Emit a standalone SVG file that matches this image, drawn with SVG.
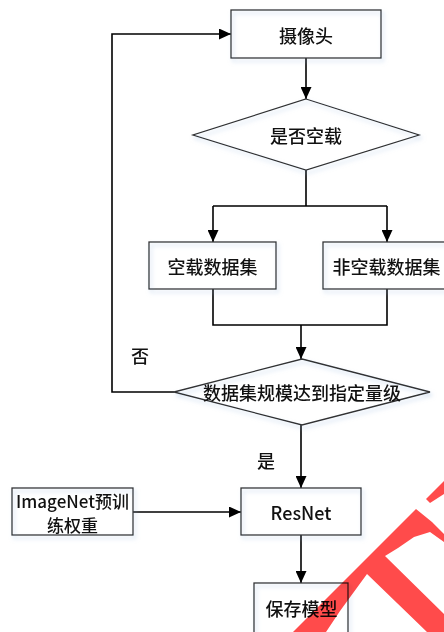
<svg xmlns="http://www.w3.org/2000/svg" width="444" height="632" viewBox="0 0 444 632">
<style>
.node{fill:none;stroke:#333;stroke-width:1.3}
.t{font-family:"Noto Sans CJK SC","Microsoft YaHei",sans-serif;font-size:18px;font-weight:500;fill:#111;text-anchor:middle;dominant-baseline:central}
.c{fill:none;stroke:#000;stroke-width:1.6}
.wm{fill:#ff4b4b;mix-blend-mode:multiply}
</style>
<defs>
<filter id="sh" x="-20%" y="-20%" width="150%" height="160%">
<feDropShadow dx="2" dy="3" stdDeviation="2" flood-color="#9dbbe0" flood-opacity="0.55"/>
</filter>
<marker id="ah" markerUnits="userSpaceOnUse" markerWidth="12" markerHeight="11" refX="12" refY="5.5" orient="auto">
<path d="M0,0 L12,5.5 L0,11 z" fill="#000"/>
</marker>
</defs>
<rect width="444" height="632" fill="#fff"/>
<g id="connectors">
<path class="c" d="M306,58 V99" marker-end="url(#ah)"/>
<path class="c" d="M306,170 V206 M213,206 H387"/>
<path class="c" d="M213,206 V242" marker-end="url(#ah)"/>
<path class="c" d="M387,206 V242" marker-end="url(#ah)"/>
<path class="c" d="M213,289 V325 H387 V289"/>
<path class="c" d="M301,325 V359" marker-end="url(#ah)"/>
<path class="c" d="M174,392 H112 V34 H231" marker-end="url(#ah)"/>
<path class="c" d="M301,425 V488" marker-end="url(#ah)"/>
<path class="c" d="M133,512 H241" marker-end="url(#ah)"/>
<path class="c" d="M301,535 V583" marker-end="url(#ah)"/>
<text class="t" x="140" y="355">否</text>
<text class="t" x="266" y="460">是</text>
</g>
<g id="camera">
<rect class="node" x="231" y="10" width="150" height="48" filter="url(#sh)"/>
<text class="t" x="306" y="35">摄像头</text>
</g>
<g id="isEmpty">
<polygon class="node" points="306,99 419,135 306,170 193,135" filter="url(#sh)"/>
<text class="t" x="306" y="135">是否空载</text>
</g>
<g id="emptySet">
<rect class="node" x="149" y="242" width="127" height="47" filter="url(#sh)"/>
<text class="t" x="212.5" y="266">空载数据集</text>
</g>
<g id="nonEmptySet">
<rect class="node" x="323" y="242" width="127" height="47" filter="url(#sh)"/>
<text class="t" x="386.5" y="266">非空载数据集</text>
</g>
<g id="scaleCheck">
<polygon class="node" points="302,359 430,392 302,425 174,392" filter="url(#sh)"/>
<text class="t" x="302" y="392">数据集规模达到指定量级</text>
</g>
<g id="imagenet">
<rect class="node" x="12" y="488" width="121" height="47" filter="url(#sh)"/>
<text class="t" x="72.5" y="500" style="font-size:17px">ImageNet预训</text>
<text class="t" x="72.5" y="524" style="font-size:17px">练权重</text>
</g>
<g id="resnet">
<rect class="node" x="241" y="488" width="120" height="47" filter="url(#sh)"/>
<text class="t" x="301" y="512">ResNet</text>
</g>
<g id="save">
<rect class="node" x="254" y="583" width="94" height="52" filter="url(#sh)"/>
<text class="t" x="301.5" y="608">保存模型</text>
</g>
<g id="watermark">
<polygon class="wm" points="293,632 416,509 432,522 444,534 444,542 430,532 414,537 398,548 385,556 444,614 444,632 427,632 367,574 340,611 326,632"/>
<polygon class="wm" points="426,499 444,481 444,494 430,503"/>
</g>
</svg>
